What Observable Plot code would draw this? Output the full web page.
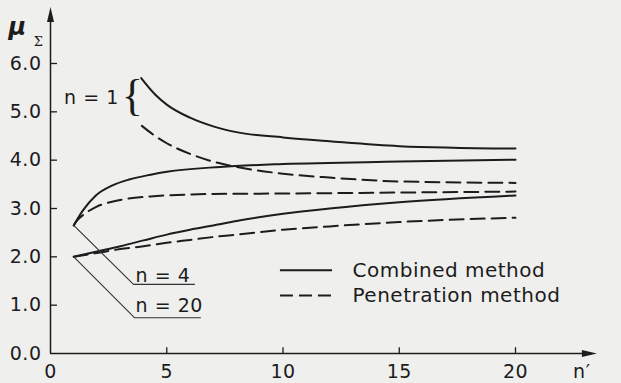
<!DOCTYPE html>
<html><head><meta charset="utf-8">
<script src="https://cdn.jsdelivr.net/npm/d3@7"></script>
<script src="https://cdn.jsdelivr.net/npm/@observablehq/plot@0.6"></script>
<style>
html,body{margin:0;padding:0;background:#efefed;}
#chart svg{display:block;}
</style></head><body><div id="chart"></div>
<script>
// ---- data ----
const xTicks = [0, 5, 10, 15, 20];
const yTicks = [0, 1, 2, 3, 4, 5, 6];

const n1X = [3.9, 4.5, 5, 6, 7, 8, 10, 12, 15, 20];
const n1Combined    = [5.70, 5.36, 5.15, 4.88, 4.70, 4.58, 4.47, 4.39, 4.29, 4.24];
const n1X_pen = [3.93, 4.5, 5, 6, 7, 8, 10, 12, 15, 20];
const n1Penetration = [4.71, 4.50, 4.35, 4.13, 3.97, 3.86, 3.72, 3.64, 3.56, 3.53];

const n4X = [1, 1.38, 1.95, 2.67, 3.38, 4.31, 5, 7.3, 10, 15, 20];
const n4Combined    = [2.65, 2.95, 3.27, 3.48, 3.60, 3.70, 3.76, 3.86, 3.92, 3.97, 4.01];
const n4X_pen = [1, 1.09, 1.5, 1.95, 2.95, 4.31, 7, 10, 15, 20];
const n4Penetration = [2.65, 2.72, 2.90, 3.03, 3.17, 3.25, 3.30, 3.31, 3.33, 3.35];

const n20X = [1, 2, 3, 4, 5, 6, 7, 8, 10, 12, 15, 20];
const n20Combined    = [2.00, 2.11, 2.22, 2.34, 2.46, 2.56, 2.65, 2.74, 2.89, 3.00, 3.13, 3.27];
const n20Penetration = [2.00, 2.08, 2.16, 2.22, 2.29, 2.35, 2.41, 2.46, 2.56, 2.63, 2.72, 2.81];

const legendLabels = ["Combined method", "Penetration method"];

// ---- build tables ----
const rows = (n, xs, ys) => xs.map((x, i) => ({n, x, y: ys[i]}));
const combined = [
  ...rows("1", n1X, n1Combined),
  ...rows("4", n4X, n4Combined),
  ...rows("20", n20X, n20Combined)
];
const penetration = [
  ...rows("1", n1X_pen, n1Penetration),
  ...rows("4", n4X_pen, n4Penetration),
  ...rows("20", n20X, n20Penetration)
];

const ink = "#1c1c1c";
const font = "DejaVu Sans";

const arrowRight = {draw(ctx){ctx.moveTo(0,0);ctx.lineTo(-15,-3.5);ctx.lineTo(-15,3.5);ctx.closePath();}};
const arrowUp = {draw(ctx){ctx.moveTo(0,0);ctx.lineTo(-3.5,15);ctx.lineTo(3.5,15);ctx.closePath();}};

const chart = Plot.plot({
  width: 621,
  height: 383,
  marginLeft: 50,
  marginRight: 13,
  marginTop: 5,
  marginBottom: 30,
  x: {domain: [0, 24], axis: null},
  y: {domain: [0, 7.2], axis: null},
  style: {background: "transparent", fontFamily: font, color: ink, letterSpacing: "0.5px"},
  marks: [
    // axes
    Plot.ruleY([0], {x1: 0, x2: 23.3, stroke: ink, strokeWidth: 1.5}),
    Plot.ruleX([0], {y1: 0, y2: 7.0, stroke: ink, strokeWidth: 1.5}),
    Plot.dot([0], {x: 23.5, y: 0, symbol: arrowRight, fill: ink}),
    Plot.dot([0], {x: 0, y: 7.17, symbol: arrowUp, fill: ink}),
    Plot.ruleY(yTicks.filter(d => d > 0), {y: d => d, x1: 0, x2: 0.3, stroke: ink, strokeWidth: 1.3}),
    Plot.ruleX(xTicks.filter(d => d > 0), {x: d => d, y1: 0, y2: 0.12, stroke: ink, strokeWidth: 1.3}),
    Plot.text(yTicks, {x: 0, y: d => d, text: d => d.toFixed(1), dx: -9, textAnchor: "end", lineAnchor: "middle", fontSize: 19, fill: ink}),
    Plot.text(xTicks, {x: d => d, y: 0, text: d => String(d), dy: 18.5, lineAnchor: "middle", fontSize: 19, fill: ink}),
    Plot.text(["n\u2032"], {x: 22.85, y: 0, dy: 18, lineAnchor: "middle", fontSize: 19, fill: ink}),
    Plot.text(["\u03bc"], {x: 0, y: 6.75, dx: -33, lineAnchor: "middle", fontSize: 24, fontStyle: "italic", fontWeight: "bold", fill: ink}),
    Plot.text(["\u03a3"], {x: 0, y: 6.75, dx: -12, dy: 15, lineAnchor: "middle", fontSize: 13, fontFamily: "DejaVu Serif", fill: ink}),

    // curves
    Plot.line(combined, {x: "x", y: "y", z: "n", stroke: ink, strokeWidth: 2, curve: "monotone-x"}),
    Plot.line(penetration, {x: "x", y: "y", z: "n", stroke: ink, strokeWidth: 2, strokeDasharray: "14,7", curve: "monotone-x"}),

    // annotations
    Plot.text(["n = 1"], {x: 1.76, y: 5.29, lineAnchor: "middle", fontSize: 19, fill: ink}),
    Plot.text(["{"], {x: 3.53, y: 5.26, dy: -3, lineAnchor: "middle", fontSize: 44, fontFamily: "Liberation Serif", fill: ink}),
    Plot.line([[1, 2.65], [3.57, 1.43], [6.19, 1.43]], {stroke: "#333", strokeWidth: 1.1}),
    Plot.line([[1, 2.0], [3.61, 0.74], [6.45, 0.74]], {stroke: "#333", strokeWidth: 1.1}),
    Plot.text(["n = 4"], {x: 3.66, y: 1.61, textAnchor: "start", lineAnchor: "middle", fontSize: 19, fill: ink}),
    Plot.text(["n = 20"], {x: 3.66, y: 0.99, textAnchor: "start", lineAnchor: "middle", fontSize: 19, fill: ink}),

    // legend
    Plot.ruleY([1.72], {x1: 9.89, x2: 12.13, stroke: ink, strokeWidth: 2}),
    Plot.ruleY([1.20], {x1: 9.89, x2: 12.13, stroke: ink, strokeWidth: 2, strokeDasharray: "13,6"}),
    Plot.text(legendLabels, {x: 12.99, y: (d, i) => [1.72, 1.20][i], textAnchor: "start", lineAnchor: "middle", fontSize: 20, fill: ink})
  ]
});
document.getElementById("chart").appendChild(chart);
</script>
</body></html>
